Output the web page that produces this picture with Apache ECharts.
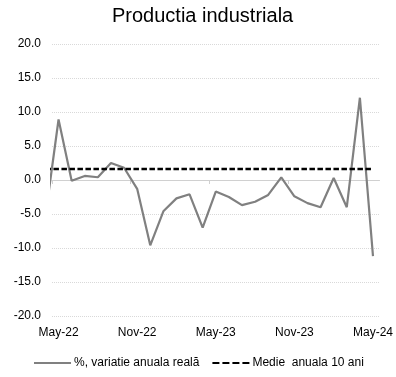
<!DOCTYPE html>
<html>
<head>
<meta charset="utf-8">
<script src="https://cdn.jsdelivr.net/npm/echarts@6/dist/echarts.min.js"></script>
<style>
  html, body { margin: 0; padding: 0; background: #fff; }
  #chart { width: 396px; height: 377px; }
</style>
</head>
<body>
<div id="chart"></div>
<script>
// Monthly categories; the first month sits just left of the visible window
const months = ['Apr-22','May-22','Jun-22','Jul-22','Aug-22','Sep-22','Oct-22','Nov-22','Dec-22',
  'Jan-23','Feb-23','Mar-23','Apr-23','May-23','Jun-23','Jul-23','Aug-23','Sep-23','Oct-23',
  'Nov-23','Dec-23','Jan-24','Feb-24','Mar-24','Apr-24','May-24'];

// Industrial production, annual real change (%)
const realChange = [-5.3, 8.9, -0.1, 0.6, 0.4, 2.5, 1.8, -1.3, -9.6,
  -4.6, -2.7, -2.1, -7.0, -1.7, -2.5, -3.7, -3.2, -2.2, 0.4,
  -2.4, -3.4, -4.0, 0.3, -4.0, 12.1, -11.2];

// 10-year average of the annual change (%)
const tenYearAvg = [1.6, 1.6, 1.6, 1.6, 1.6, 1.6, 1.6, 1.6, 1.6,
  1.6, 1.6, 1.6, 1.6, 1.6, 1.6, 1.6, 1.6, 1.6, 1.6,
  1.6, 1.6, 1.6, 1.6, 1.6, 1.6, 1.6];

const labelMonths = [1, 7, 13, 19, 25];
const tickBounds = [0.5, 6.5, 12.5, 18.5, 24.5];

const seriesNames = ['%, variatie anuala reală', 'Medie  anuala 10 ani'];

const FONT = 'Liberation Sans, Arial, sans-serif';

const chart = echarts.init(document.getElementById('chart'), null, { renderer: 'canvas' });

chart.setOption({
  animation: false,
  backgroundColor: '#fff',
  title: {
    text: 'Productia industriala',
    left: 112,
    top: 6,
    padding: 0,
    textStyle: { fontFamily: FONT, fontSize: 20, fontWeight: 'normal', color: '#000' }
  },
  grid: { left: 52, right: 14, top: 44, bottom: 61, containLabel: false },
  xAxis: [
    {
      type: 'value',
      min: 0.5,
      max: 25.5,
      position: 'bottom',
      axisLine: { show: false, onZero: false },
      axisTick: { show: false },
      splitLine: { show: false },
      axisLabel: {
        customValues: labelMonths,
        formatter: v => months[Math.round(v)],
        fontFamily: FONT, fontSize: 12, color: '#000', margin: 11
      }
    },
    {
      type: 'value',
      min: 0.5,
      max: 25.5,
      position: 'bottom',
      axisLine: { show: true, onZero: true, lineStyle: { color: '#d0d0d0', width: 1 } },
      axisTick: { show: true, customValues: tickBounds, length: 4, lineStyle: { color: '#d0d0d0' } },
      axisLabel: { show: false },
      splitLine: { show: false }
    }
  ],
  yAxis: {
    type: 'value',
    min: -20,
    max: 20,
    interval: 5,
    axisLine: { show: false },
    axisTick: { show: false },
    axisLabel: {
      formatter: v => v.toFixed(1),
      fontFamily: FONT, fontSize: 12, color: '#000', margin: 11
    },
    splitLine: { lineStyle: { color: '#d9d9d9', type: 'dotted', width: 1 } }
  },
  legend: {
    data: [
      { name: seriesNames[0] },
      { name: seriesNames[1], lineStyle: { type: [7, 3] } }
    ],
    left: 33,
    top: 357,
    padding: 0,
    itemWidth: 37,
    itemHeight: 14,
    itemGap: 12,
    itemStyle: { opacity: 0 },
    textStyle: { fontFamily: FONT, fontSize: 12, color: '#000', padding: [0, 0, 0, -2] }
  },
  series: [
    {
      name: seriesNames[0],
      type: 'line',
      xAxisIndex: 0,
      data: realChange.map((v, i) => [i, v]),
      symbol: 'none',
      clip: true,
      color: '#808080',
      lineStyle: { color: '#808080', width: 2.2 },
      z: 3
    },
    {
      name: seriesNames[1],
      type: 'line',
      xAxisIndex: 0,
      data: tenYearAvg.map((v, i) => [i, v]),
      symbol: 'none',
      clip: true,
      color: '#000',
      lineStyle: { color: '#000', width: 2.5, type: [5.5, 2.5] },
      z: 4
    }
  ]
});
</script>
</body>
</html>
